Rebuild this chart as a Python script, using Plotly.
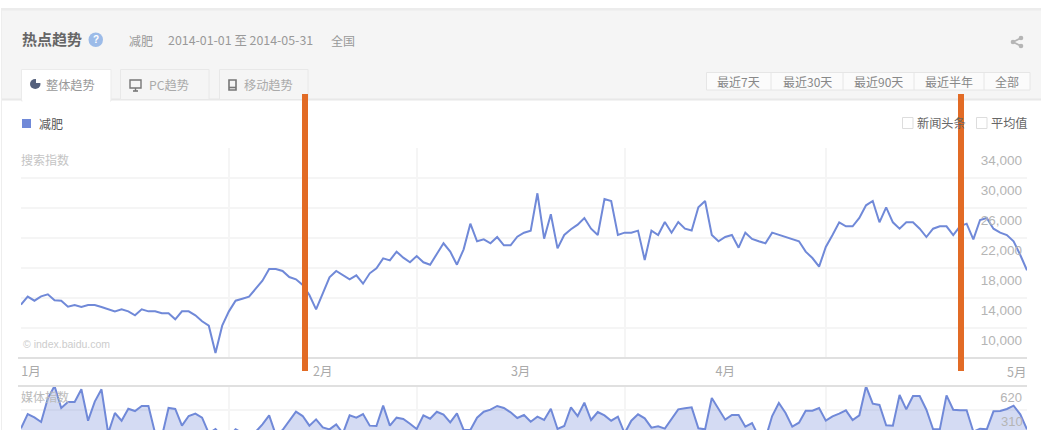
import pandas as pd
import plotly.graph_objects as go

W, H = 1041, 433
FONT = "Liberation Sans, Noto Sans CJK SC, sans-serif"
CJK = "Noto Sans CJK SC, Liberation Sans, sans-serif"

dates = pd.date_range("2014-01-01", "2014-05-31", freq="D")

search_index = [
    17110, 18180, 17640, 18220, 18490, 17690, 17640, 16840, 17070, 16800,
    17070, 17070, 16800, 16530, 16220, 16490, 16220, 15690, 16490, 16220,
    16220, 15960, 15960, 15160, 16220, 16220, 15690, 14890, 14310, 10670,
    14310, 16220, 17640, 17910, 18180, 19240, 20310, 21870, 21870, 21600,
    20800, 20490, 19730, 18400, 16490, 18620, 20760, 21600, 21070, 20490,
    21020, 19910, 21290, 21960, 23290, 23020, 24180, 23380, 22760, 23600,
    22760, 22440, 23870, 25290, 24180, 22440, 24490, 27910, 25560, 25820,
    25290, 26130, 25020, 25020, 26180, 26710, 26980, 31960, 25910, 29160,
    24620, 26400, 27160, 27780, 28670, 27240, 26400, 31200, 30930, 26400,
    26710, 26710, 26980, 23070, 26980, 26400, 28130, 26710, 28130, 27240,
    27000, 30090, 30930, 26400, 25560, 26130, 26400, 24710, 26710, 25870,
    25560, 25290, 26710, 26400, 26130, 25870, 25560, 24180, 23330, 22180,
    24800, 26400, 28090, 27560, 27560, 28670, 30360, 30930, 28090, 30090,
    28090, 27240, 28090, 28090, 27240, 26130, 27240, 27560, 27560, 26400,
    27560, 27910, 25820, 28400, 28670, 27240, 26710, 26400, 25560, 23730,
    21690,
]

media_index = [
    383, 568, 525, 465, 770, 930, 646, 723, 723, 887,
    482, 728, 887, 319, 581, 482, 637, 607, 672, 672,
    319, 275, 646, 633, 418, 542, 573, 521, 319, 375,
    275, 275, 370, 319, 275, 340, 435, 551, 297, 362,
    482, 598, 542, 418, 499, 396, 370, 435, 319, 551,
    521, 568, 418, 413, 676, 418, 521, 504, 443, 375,
    551, 508, 598, 560, 461, 577, 362, 362, 521, 598,
    624, 672, 646, 590, 517, 555, 469, 534, 491, 637,
    375, 413, 654, 542, 715, 491, 594, 551, 482, 534,
    319, 482, 564, 512, 392, 409, 379, 512, 629, 642,
    654, 383, 370, 775, 642, 495, 555, 555, 405, 452,
    275, 250, 542, 710, 581, 405, 456, 611, 611, 646,
    482, 538, 573, 616, 491, 551, 926, 702, 685, 422,
    418, 814, 629, 801, 801, 624, 370, 370, 809, 624,
    616, 616, 340, 379, 370, 603, 607, 633, 676, 564,
    370,
]

month_labels = ["1月", "2月", "3月", "4月", "5月"]
month_label_dates = ["2014-01-02 12:00", "2014-02-15", "2014-03-16 12:00", "2014-04-16", "2014-05-29 12:00"]
month_starts = ["2014-02-01", "2014-03-01", "2014-04-01", "2014-05-01"]
search_ticks = [10000, 14000, 18000, 22000, 26000, 30000, 34000, 38000]
search_tick_text = ["10,000", "14,000", "18,000", "22,000", "26,000", "30,000", "34,000", ""]
media_ticks = [620]
range_buttons = [("最近7天", 706, 771), ("最近30天", 771, 843), ("最近90天", 843, 914), ("最近半年", 914, 984), ("全部", 984, 1030)]
tabs = [("PC趋势", 120, 209, 149), ("移动趋势", 219, 308, 244)]

LINE = "#7089d8"
GRID = "#f5f5f5"
AXIS = "#e0e0e0"
ORANGE = "#e26b25"
TICKC = "#b5b5b5"

def py(p):
    return 1 - p / H
def px(p):
    return p / W

fig = go.Figure()
fig.add_trace(go.Scatter(x=dates, y=search_index, mode="lines", line=dict(color=LINE, width=2),
                         xaxis="x", yaxis="y", hoverinfo="skip", showlegend=False))
fig.add_trace(go.Scatter(x=dates, y=media_index, mode="lines", fill="tozeroy",
                         fillcolor="rgba(112,137,216,0.30)", line=dict(color=LINE, width=2),
                         xaxis="x2", yaxis="y2", hoverinfo="skip", showlegend=False))

shapes = []
def rect(x0, y0, x1, y1, fill, line=None, layer="below", lw=1):
    shapes.append(dict(type="rect", xref="paper", yref="paper", x0=px(x0), x1=px(x1), y0=py(y0), y1=py(y1),
                       fillcolor=fill, line=dict(color=line or fill, width=lw if line else 0), layer=layer))
def seg(x0, y0, x1, y1, color, w=1, layer="below"):
    shapes.append(dict(type="line", xref="paper", yref="paper", x0=px(x0), x1=px(x1), y0=py(y0), y1=py(y1),
                       line=dict(color=color, width=w), layer=layer))
def path(d, fill=None, line=None, lw=1, layer="above"):
    toks = d.split()
    out = []
    i = 0
    while i < len(toks):
        t = toks[i]
        if t in "MLZ":
            out.append(t)
            i += 1
        else:
            out.append(f"{px(float(t)):.5f},{py(float(toks[i+1])):.5f}")
            i += 2
    shapes.append(dict(type="path", xref="paper", yref="paper", path=" ".join(out),
                       fillcolor=fill or "rgba(0,0,0,0)", line=dict(color=line or "rgba(0,0,0,0)", width=lw), layer=layer))

# panel chrome
rect(1, 8, W, 100, "#f5f5f5")
rect(1, 8, W, 10.5, "#ececec")
seg(1, 99.5, W, 99.5, "#e8e8e8", 2)
seg(1.5, 10, 1.5, H, "#eeeeee", 1)

# tabs
rect(21.5, 69.5, 111, 101, "#ffffff", "#ebebeb")
rect(22.5, 98, 110, 102, "#ffffff")
for label, x0, x1, tx in tabs:
    rect(x0 + 0.5, 69.5, x1, 99.5, "#f5f5f5", "#e8e8e8")

# range buttons
rect(706.5, 72.5, 1030, 90, "#fbfbfb", "#e6e6e6")
for _, x0, x1 in range_buttons[1:]:
    seg(x0, 72.5, x0, 90, "#e6e6e6")

# axis lines
seg(18, 358, 1027, 358, AXIS, 2, "above")
seg(18, 386, 1027, 386, AXIS, 2, "above")

# legend + checkboxes
rect(22, 119, 31, 128, "#7089d8")
rect(902.5, 117.5, 913, 128.5, "#ffffff", "#dddddd")
rect(976.5, 117.5, 987, 128.5, "#ffffff", "#dddddd")

# help icon
shapes.append(dict(type="circle", xref="paper", yref="paper", x0=px(88.5), x1=px(103), y0=py(32.5), y1=py(47),
                   fillcolor="#9cbbe8", line=dict(width=0), layer="above"))
# tab icons
shapes.append(dict(type="circle", xref="paper", yref="paper", x0=px(30), x1=px(40.5), y0=py(79), y1=py(89),
                   fillcolor="#54607c", line=dict(width=0), layer="above"))
path("M 36 78 L 41 78 L 41 83 L 36 83 Z", fill="#ffffff")
path("M 130 80 L 141 80 L 141 88 L 130 88 Z", line="#777777", lw=1.4)
path("M 133 91 L 138 91", line="#777777", lw=1.6)
path("M 135.5 88 L 135.5 91", line="#777777", lw=1.4)
path("M 229 80 L 236 80 L 236 90 L 229 90 Z", line="#777777", lw=1.6)
path("M 229 87.5 L 236 87.5", line="#777777", lw=1.6)
# share icon
path("M 1021 38 L 1013 42 L 1021 46", line="#b5b5b5", lw=1.6)
for cx, cy in [(1021, 38), (1013, 42), (1021, 46)]:
    shapes.append(dict(type="circle", xref="paper", yref="paper", x0=px(cx - 2.3), x1=px(cx + 2.3),
                       y0=py(cy - 2.3), y1=py(cy + 2.3), fillcolor="#b5b5b5", line=dict(width=0), layer="above"))

# orange markers and the bottom cut-off
rect(302, 94, 308, 371, ORANGE, layer="above")
rect(958, 94, 964, 371, ORANGE, layer="above")
rect(0, 430, W, H, "#ffffff", layer="above")

ann = []
def text(s, x, y, size=12, color="#888888", anchor="left", family=CJK, bold=False):
    ann.append(dict(text=f"<b>{s}</b>" if bold else s, xref="paper", yref="paper", x=px(x), y=py(y), showarrow=False,
                    xanchor=anchor, yanchor="middle", font=dict(size=size, color=color, family=family),
                    xshift=0, yshift=0, borderpad=0, borderwidth=0))

text("热点趋势", 22, 39, 15, "#666666", bold=True)
text("?", 95.8, 39.5, 10, "#ffffff", "center", FONT, True)
text("减肥", 129, 40, 12, "#999999")
text("2014-01-01 至 2014-05-31", 168, 40, 12.4, "#999999")
text("全国", 331, 40, 12, "#999999")
text("整体趋势", 46, 85.5, 12.2, "#999999")
for label, x0, x1, tx in tabs:
    text(label, tx, 85.5, 12.2, "#aaaaaa")
for label, x0, x1 in range_buttons:
    text(label, (x0 + x1) / 2, 81.5, 12, "#888888", "center")
text("减肥", 39, 124, 12, "#555555")
text("新闻头条", 917, 123, 12.2, "#666666")
text("平均值", 991, 123, 12.2, "#666666")
text("搜索指数", 21, 159, 12, "#c4c4c4")
text("媒体指数", 21, 396, 12, "#bbbbbb")
text("© index.baidu.com", 23, 344, 10.5, "#cccccc", family=FONT)
text("310", 1023, 421.5, 13, TICKC, "right", FONT)
# the last month label sits at the right edge, where the axis would drop it
ann.append(dict(text=month_labels[-1], xref="x", yref="paper", x=month_label_dates[-1], y=py(371), showarrow=False,
                xanchor="center", yanchor="middle", font=dict(size=12.5, color="#aaaaaa", family=CJK)))

base_axis = dict(showline=False, zeroline=False, automargin=False)
fig.update_layout(
    width=W, height=H, margin=dict(l=0, r=0, t=0, b=0, pad=0), autosize=False,
    paper_bgcolor="#ffffff", plot_bgcolor="rgba(0,0,0,0)", showlegend=False,
    font=dict(family=FONT), shapes=shapes, annotations=ann,
    xaxis=dict(base_axis, domain=[px(21), px(1027)], range=[dates[0], dates[-1]], type="date",
               tickmode="array", tickvals=month_label_dates[:-1], ticktext=month_labels[:-1], showgrid=False,
               ticks="", ticklabelstandoff=4, tickfont=dict(size=12.5, color="#aaaaaa", family=CJK), anchor="y",
               minor=dict(tickmode="array", tickvals=month_starts, showgrid=True, gridcolor=GRID, gridwidth=1.5, ticks="")),
    yaxis=dict(base_axis, domain=[py(358), py(148)], range=[10000, 38000], side="right", anchor="x",
               tickmode="array", tickvals=search_ticks, ticktext=search_tick_text, showgrid=True,
               gridcolor=GRID, gridwidth=1.5, ticks="", ticklabelposition="inside", ticklabelshift=-18, ticklabelstandoff=2,
               tickfont=dict(size=13.5, color=TICKC, family=FONT)),
    xaxis2=dict(base_axis, domain=[px(21), px(1027)], range=[dates[0], dates[-1]], type="date",
                matches="x", anchor="y2", showticklabels=False, showgrid=False, ticks="", tickmode="array", tickvals=[],
                minor=dict(tickmode="array", tickvals=month_starts, showgrid=True, gridcolor=GRID, gridwidth=1.5, ticks="")),
    yaxis2=dict(base_axis, domain=[0, py(386)], range=[323, 930], side="right", anchor="x2",
                tickmode="array", tickvals=media_ticks, ticktext=[str(t) for t in media_ticks], showgrid=True,
                gridcolor=GRID, gridwidth=1.5, ticks="", ticklabelposition="inside", ticklabelshift=-13, ticklabelstandoff=2,
                tickfont=dict(size=13, color=TICKC, family=FONT)),
)
fig.write_html("out.html", config=dict(displayModeBar=False),
               post_script="document.documentElement.style.overflow='hidden';document.body.style.margin='0';document.body.style.overflow='hidden';")
